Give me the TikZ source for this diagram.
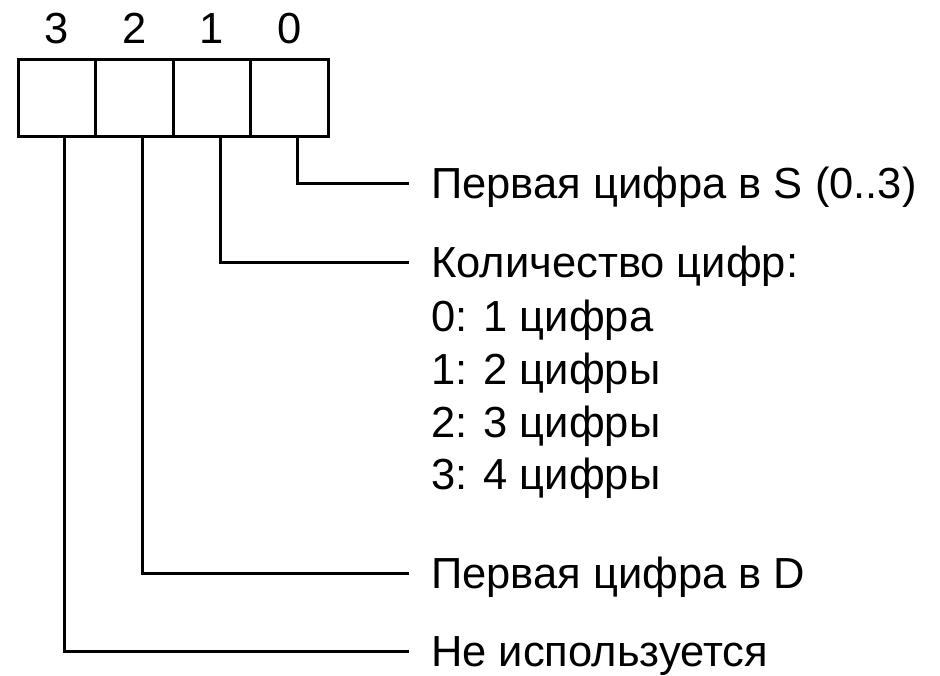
\documentclass[tikz,border=0pt]{standalone}
\usepackage{fontspec}
\setmainfont{Liberation Sans}
\begin{document}
\begin{tikzpicture}[x=1pt,y=-1pt,
  cell/.style={draw,line width=3pt,minimum width=77.5pt,minimum height=77pt,inner sep=0pt,outer sep=0pt},
  lbl/.style={anchor=base west,inner sep=0pt,font=\fontsize{43.5}{53}\selectfont},
  num/.style={anchor=base,inner sep=0pt,font=\fontsize{43.5}{53}\selectfont},
  conn/.style={line width=3pt,line cap=rect}]
\useasboundingbox (0,0) rectangle (940,675);
\node[cell] (c3) at (57,97.5) {};
\node[cell] (c2) at (134.5,97.5) {};
\node[cell] (c1) at (212,97.5) {};
\node[cell] (c0) at (289.5,97.5) {};
\node[num] (n3) at (57,43) {3};
\node[num] (n2) at (134.5,43) {2};
\node[num] (n1) at (212,43) {1};
\node[num] (n0) at (289.5,43) {0};
\coordinate (e0) at (407,183);
\coordinate (e1) at (407,262);
\coordinate (e2) at (407,573);
\coordinate (e3) at (407,651);
\node[lbl] (t0) at (431,198.5) {Первая цифра в S (0..3)};
\node[lbl] (t1) at (431,277.5) {Количество цифр:};
\node[lbl] (t1a) at (431,331) {0: 1 цифра};
\node[lbl] (t1b) at (431,384) {1: 2 цифры};
\node[lbl] (t1c) at (431,437) {2: 3 цифры};
\node[lbl] (t1d) at (431,489) {3: 4 цифры};
\node[lbl] (t2) at (431,588.5) {Первая цифра в D};
\node[lbl] (t3) at (431,666.5) {Не используется};
\draw[conn] ([xshift=8pt]c0.south) |- (e0);
\draw[conn] ([xshift=8pt]c1.south) |- (e1);
\draw[conn] ([xshift=8pt]c2.south) |- (e2);
\draw[conn] ([xshift=7pt]c3.south) |- (e3);
\end{tikzpicture}
\end{document}
